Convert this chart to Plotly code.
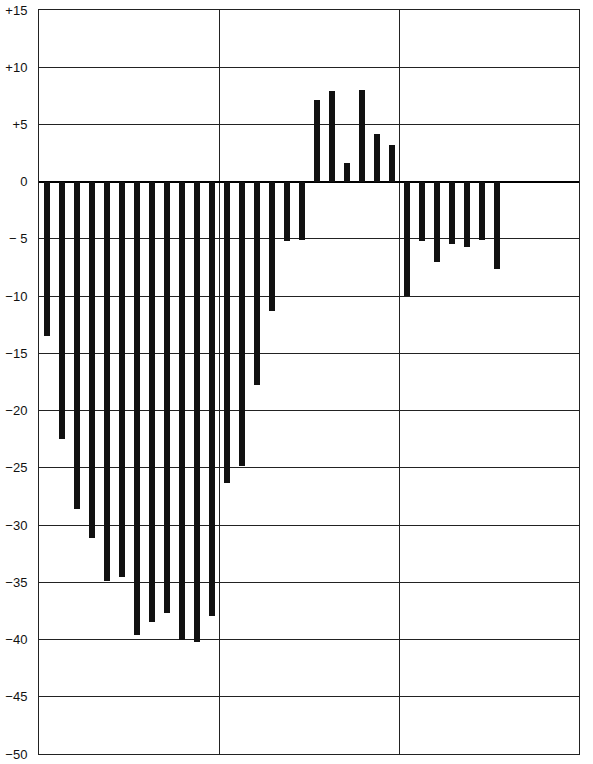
import plotly.graph_objects as go

# Monthly values, three years (third year incomplete)
year1 = [-13.5, -22.5, -28.6, -31.1, -34.9, -34.5, -39.6, -38.5, -37.7, -40.0, -40.2, -37.9]
year2 = [-26.3, -24.8, -17.8, -11.3, -5.2, -5.1, 7.1, 7.9, 1.6, 8.0, 4.2, 3.2]
year3 = [-10.0, -5.2, -7.0, -5.4, -5.7, -5.1, -7.6]

y_tick_vals = [15, 10, 5, 0, -5, -10, -15, -20, -25, -30, -35, -40, -45, -50]
y_tick_text = ["+15", "+10", "+5", "0", "\u2212 5", "\u221210", "\u221215", "\u221220", "\u221225",
               "\u221230", "\u221235", "\u221240", "\u221245", "\u221250"]

values = year1 + year2 + year3
months_per_year = 12
x = list(range(len(values)))

fig = go.Figure(go.Bar(
    x=x, y=values, width=0.4,
    marker=dict(color="#111111", line=dict(width=0)),
))

n_slots = 3 * months_per_year
year_bounds = [i * months_per_year - 0.5 for i in range(4)]

fig.update_layout(
    width=593, height=764,
    margin=dict(l=39, r=14, t=10, b=10, autoexpand=False),
    paper_bgcolor="white", plot_bgcolor="white",
    showlegend=False,
    bargap=0,
    font=dict(family="Liberation Sans, Arial, sans-serif", size=13, color="#111"),
    xaxis=dict(
        range=[-0.5, n_slots - 0.5],
        tickvals=year_bounds,
        showticklabels=False,
        showgrid=True, gridcolor="#222", gridwidth=1,
        zeroline=False, showline=True, mirror=True, linecolor="#222", linewidth=1,
        ticks="", automargin=False,
    ),
    yaxis=dict(
        range=[-50, 15],
        tickvals=y_tick_vals, ticktext=y_tick_text,
        showgrid=True, gridcolor="#222", gridwidth=1,
        zeroline=True, zerolinecolor="#000", zerolinewidth=2,
        showline=True, mirror=True, linecolor="#222", linewidth=1,
        ticks="outside", ticklen=8, tickcolor="rgba(0,0,0,0)",
        automargin=False,
    ),
)

fig.write_html("out.html", config={"displayModeBar": False},
               post_script="document.body.style.margin='0';")
